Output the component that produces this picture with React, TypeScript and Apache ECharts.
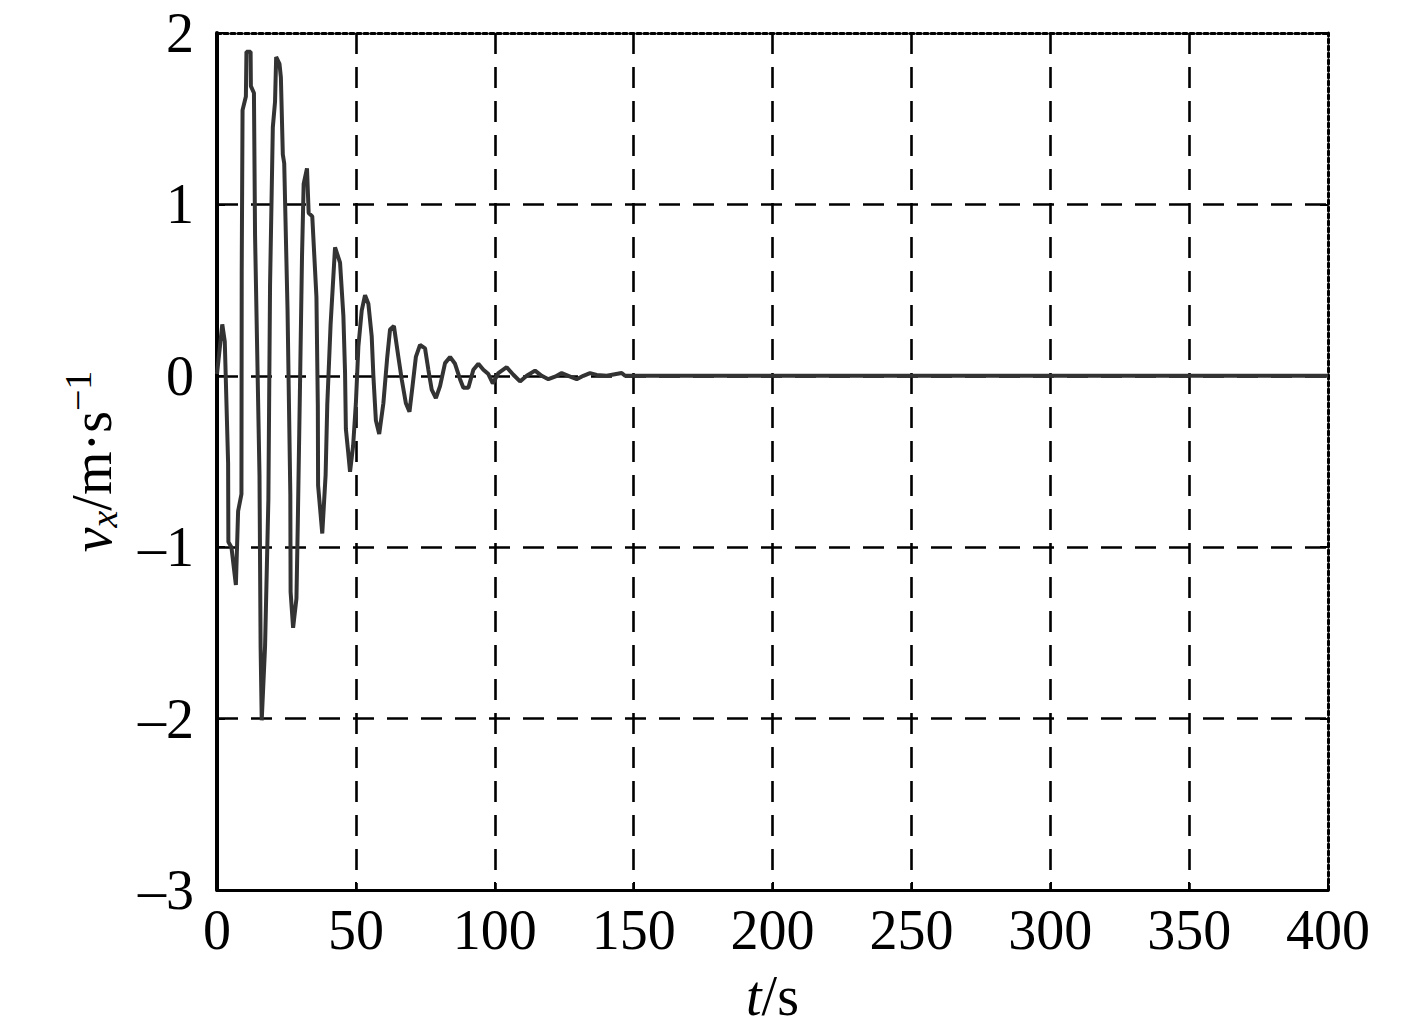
import React, { useEffect, useRef } from "react";
import * as echarts from "echarts";

const timeS: number[] = [
  0, 1.9, 2.8, 4, 4.1, 5.2, 6.8, 7.6, 8.8, 8.9, 9.2, 10.4, 10.6, 12.1, 12.2, 13.3, 13.7, 15.3, 15.7, 16.1,
  17.3, 18.5, 19.1, 20.1, 20.9, 21.3, 22.5, 23, 23.7, 24.2, 25.4, 26.4, 26.5, 27.4, 28.6, 29.1, 30.0, 30.6,
  31.2, 32.4, 33, 34.3, 35.8, 36.3, 36.4, 37.9, 39.1, 39.7, 40.9, 42.5, 44.3, 45.5, 46.1, 46.4, 47.2, 47.9,
  49, 50, 50.9, 52.1, 53.3, 54.5, 55.7, 56.3, 57.2, 58.4, 59.9, 61.3, 62.3, 63.7, 65.3, 66.5, 68, 69.3, 70.4,
  71.6, 73.1, 74.9, 76.1, 77.3, 78.8, 80.3, 82.1, 83.9, 85.7, 87.5, 88.7, 90.5, 92.3, 94.1, 95.9, 97.7, 99.3,
  101.3, 104.3, 106.7, 109.1, 111.5, 114.5, 116.9, 119.3, 121.7, 124.1, 126.5, 129.5, 131.9, 134.3, 136.7,
  140.3, 145.7, 146.9, 400,
];

const velocity: number[] = [
  0.01, 0.3, 0.2, -0.51, -0.97, -1.0, -1.22, -0.79, -0.69, 0.61, 1.55, 1.63, 1.89, 1.89, 1.69, 1.65, 0.82,
  -0.58, -1.58, -2.01, -1.58, -0.72, 0.53, 1.45, 1.6, 1.86, 1.82, 1.74, 1.29, 1.24, 0.38, -0.69, -1.26, -1.47,
  -1.3, -0.85, 0.06, 0.69, 1.12, 1.21, 0.95, 0.93, 0.46, -0.17, -0.64, -0.92, -0.58, -0.17, 0.3, 0.75, 0.66,
  0.35, 0.02, -0.31, -0.44, -0.56, -0.41, -0.16, 0.17, 0.38, 0.47, 0.42, 0.23, 0, -0.26, -0.34, -0.16, 0.11,
  0.27, 0.29, 0.11, -0.02, -0.16, -0.21, -0.06, 0.11, 0.18, 0.16, 0.035, -0.08, -0.13, -0.06, 0.074, 0.11,
  0.07, -0.02, -0.07, -0.07, 0.035, 0.07, 0.035, 0.01, -0.045, 0.016, 0.05, 0.006, -0.033, 0, 0.03, 0, -0.02,
  -0.005, 0.016, 0, -0.02, 0, 0.016, 0.005, 0, 0.016, 0, 0,
];

const xTicks: number[] = [0, 50, 100, 150, 200, 250, 300, 350, 400];
const yTicks: number[] = [-3, -2, -1, 0, 1, 2];

const FONT = "'Liberation Serif', 'Times New Roman', serif";
const FS = 56;

export default function App() {
  const ref = useRef<HTMLDivElement>(null);
  useEffect(() => {
    if (!ref.current) return;
    const chart = echarts.init(ref.current, undefined, { renderer: "svg" });
    const data = timeS.map((t, i) => [t, velocity[i]]);
    const gridLine = { show: true, showMinLine: false, showMaxLine: false, lineStyle: { color: "#000", width: 2.6, type: [21, 13] } };
    const dotted = { show: true, lineStyle: { color: "#000", width: 3, type: [4, 3] } };
    chart.setOption({
      animation: false,
      backgroundColor: "#fff",
      grid: { left: 217, top: 33, width: 1111, height: 857, containLabel: false, outerBoundsMode: "none" },
      xAxis: [
        {
          type: "value",
          min: xTicks[0],
          max: xTicks[xTicks.length - 1],
          interval: 50,
          position: "bottom",
          name: "{i|t}{n|/s}",
          nameLocation: "middle",
          nameGap: 78,
          nameTextStyle: {
            verticalAlign: "top",
            rich: {
              i: { fontFamily: FONT, fontSize: FS, fontStyle: "italic", color: "#000" },
              n: { fontFamily: FONT, fontSize: FS, color: "#000" },
            },
          },
          axisLine: { show: true, onZero: false, lineStyle: { color: "#000", width: 3 } },
          axisTick: { show: true, inside: true, length: 8, lineStyle: { color: "#000", width: 2 } },
          axisLabel: { fontFamily: FONT, fontSize: FS, color: "#000", margin: 12 },
          splitLine: gridLine,
        },
        {
          type: "value",
          min: xTicks[0],
          max: xTicks[xTicks.length - 1],
          interval: 50,
          position: "top",
          axisLine: { ...dotted, onZero: false },
          axisTick: { show: false },
          axisLabel: { show: false },
          splitLine: { show: false },
        },
      ],
      yAxis: [
        {
          type: "value",
          min: yTicks[0],
          max: yTicks[yTicks.length - 1],
          interval: 1,
          position: "left",
          name: "{i|v}{s|x}{n|/m·s}{p|−1}",
          nameLocation: "middle",
          nameGap: 90,
          nameTextStyle: {
            rich: {
              i: { fontFamily: FONT, fontSize: FS, fontStyle: "italic", color: "#000", lineHeight: 70, verticalAlign: "middle" },
              s: { fontFamily: FONT, fontSize: 38, fontStyle: "italic", color: "#000", lineHeight: 70, verticalAlign: "bottom", padding: [0, 0, 4, 0] },
              n: { fontFamily: FONT, fontSize: FS, color: "#000", lineHeight: 70, verticalAlign: "middle" },
              p: { fontFamily: FONT, fontSize: 38, color: "#000", lineHeight: 70, verticalAlign: "top", padding: [2, 0, 0, 0] },
            },
          },
          axisLine: { show: true, onZero: false, lineStyle: { color: "#000", width: 4 } },
          axisTick: { show: true, inside: true, length: 8, lineStyle: { color: "#000", width: 2 } },
          axisLabel: {
            fontFamily: FONT,
            fontSize: FS,
            color: "#000",
            margin: 23,
            formatter: (v: number) => (v < 0 ? "–" + Math.abs(v) : String(v)),
          },
          splitLine: gridLine,
        },
        {
          type: "value",
          min: yTicks[0],
          max: yTicks[yTicks.length - 1],
          interval: 1,
          position: "right",
          axisLine: { ...dotted, onZero: false },
          axisTick: { show: true, inside: true, length: 8, lineStyle: { color: "#000", width: 2 } },
          axisLabel: { show: false },
          splitLine: { show: false },
        },
      ],
      series: [
        {
          type: "line",
          data,
          xAxisIndex: 0,
          yAxisIndex: 0,
          showSymbol: false,
          symbol: "none",
          lineStyle: { color: "#333", width: 4 },
          z: 3,
        },
      ],
    });
    return () => chart.dispose();
  }, []);
  return (
    <div
      ref={ref}
      style={{ position: "fixed", left: 0, top: 0, width: 1417, height: 1032, background: "#fff" }}
    />
  );
}
